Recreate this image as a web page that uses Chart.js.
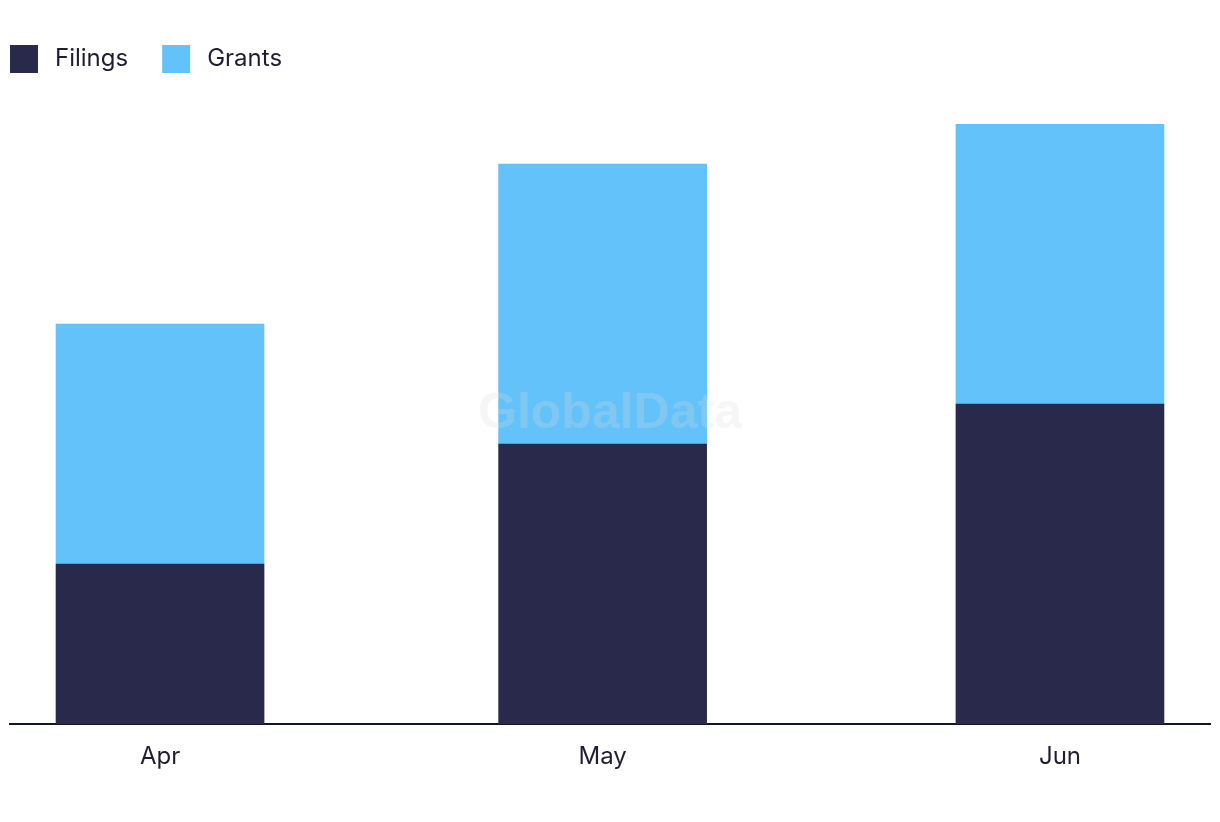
<!DOCTYPE html>
<html>
<head>
<meta charset="utf-8">
<script src="https://cdn.jsdelivr.net/npm/chart.js@4"></script>
<style>
    html, body { margin: 0; padding: 0; background: #fff; }
    #wrap { width: 1220px; height: 822px; position: relative; }
</style>
</head>
<body>
<div id="wrap"><canvas id="chart"></canvas></div>
<script>
const months = ['Apr', 'May', 'Jun'];
const monthDays = [0, 30, 61]; // days since 1 Apr, the x axis is a time line
const filings = [4, 7, 8];
const grants = [6, 7, 7];

const NAVY = '#29294b';
const SKY = '#62c2f9';
const TEXT = '#1e1e30';
const FONT = 'Inter, "Noto Sans", sans-serif';

function points(values) {
    return values.map((v, i) => ({ x: monthDays[i], y: v }));
}

// legend drawn by hand so the boxes sit where the original has them
const legendPlugin = {
    id: 'squareLegend',
    afterDraw(chart) {
        const ctx = chart.ctx;
        let x = 10;
        ctx.save();
        ctx.font = '24px ' + FONT;
        ctx.textBaseline = 'middle';
        chart.data.datasets.forEach((ds) => {
            ctx.fillStyle = ds.backgroundColor;
            ctx.fillRect(x, 45, 28, 28);
            ctx.fillStyle = TEXT;
            ctx.fillText(ds.label, x + 45, 59);
            x += 45 + ctx.measureText(ds.label).width + 34;
        });
        ctx.restore();
    },
};

const watermarkPlugin = {
    id: 'watermark',
    afterDatasetsDraw(chart) {
        const ctx = chart.ctx;
        ctx.save();
        ctx.font = 'bold 50px "Liberation Sans", Arial, sans-serif';
        ctx.textAlign = 'center';
        ctx.textBaseline = 'middle';
        ctx.fillStyle = 'rgba(220, 220, 220, 0.25)';
        ctx.fillText('GlobalData', 610, 414);
        ctx.restore();
    },
};

new Chart(document.getElementById('chart'), {
    type: 'bar',
    data: {
        datasets: [
            { label: 'Filings', data: points(filings), backgroundColor: NAVY, barThickness: 208 },
            { label: 'Grants', data: points(grants), backgroundColor: SKY, barThickness: 208 },
        ],
    },
    options: {
        responsive: true,
        maintainAspectRatio: false,
        animation: false,
        layout: { padding: { top: 124, left: 10, right: 10, bottom: 0 } },
        plugins: {
            legend: { display: false },
            tooltip: { enabled: false },
        },
        scales: {
            x: {
                type: 'linear',
                stacked: true,
                offset: false,
                min: -10.17,
                max: 71.17,
                grid: { display: false, drawTicks: false },
                border: { display: true, color: '#15152a', width: 2 },
                afterBuildTicks(scale) {
                    scale.ticks = monthDays.map((d) => ({ value: d }));
                },
                afterFit(scale) {
                    scale.height = 98;
                },
                ticks: {
                    autoSkip: false,
                    maxRotation: 0,
                    padding: 18,
                    color: TEXT,
                    font: { family: FONT, size: 24 },
                    callback: (value) => months[monthDays.indexOf(value)],
                },
            },
            y: {
                stacked: true,
                display: false,
                min: 0,
                max: 15,
            },
        },
    },
    plugins: [legendPlugin, watermarkPlugin],
});
</script>
</body>
</html>
